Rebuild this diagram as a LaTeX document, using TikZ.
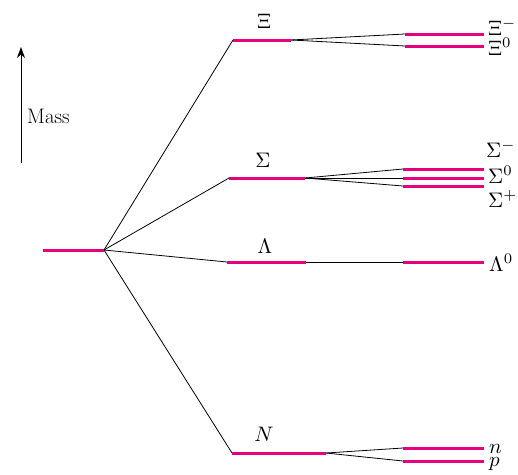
\documentclass[tikz,border=0pt]{standalone}
\usetikzlibrary{arrows.meta}
\definecolor{lvl}{HTML}{E6007E}
\newcommand{\mlab}[1]{{\fontsize{10}{12}\selectfont\scalebox{2.1}{$#1$}}}
\tikzset{
  lvlline/.style={draw=lvl, line width=3pt},
  conn/.style={draw=black, line width=0.8pt},
  lab/.style={inner sep=0pt, anchor=base},
  rlab/.style={inner sep=0pt, anchor=base west}
}
\begin{document}
\begin{tikzpicture}[x=1pt,y=-1pt]
\useasboundingbox (0,0) rectangle (518,474);
% coordinates
\coordinate (c0) at (43,250); \coordinate (c1) at (104,250);
\coordinate (xa) at (233,40); \coordinate (xb) at (291,40);
\coordinate (xm1) at (405,34); \coordinate (xm2) at (484,34);
\coordinate (xz1) at (405,46); \coordinate (xz2) at (484,46);
\coordinate (sa) at (229,178); \coordinate (sb) at (305,178);
\coordinate (sm1) at (403,169); \coordinate (sm2) at (484,169);
\coordinate (sz1) at (403,178); \coordinate (sz2) at (484,178);
\coordinate (sp1) at (403,186); \coordinate (sp2) at (484,186);
\coordinate (la) at (227,262); \coordinate (lb) at (306,262);
\coordinate (lz1) at (403,262); \coordinate (lz2) at (484,262);
\coordinate (na) at (232,453); \coordinate (nb) at (326,453);
\coordinate (nn1) at (403,448); \coordinate (nn2) at (484,448);
\coordinate (pp1) at (403,461); \coordinate (pp2) at (484,461);
\coordinate (mb) at (21,163); \coordinate (mt) at (21,47);
% connectors
\draw[conn] (c1) -- (xa);
\draw[conn] (c1) -- (sa);
\draw[conn] (c1) -- (la);
\draw[conn] (c1) -- (na);
\draw[conn] (xb) -- (xm1);
\draw[conn] (xb) -- (xz1);
\draw[conn] (sb) -- (sm1);
\draw[conn] (sb) -- (sz1);
\draw[conn] (sb) -- (sp1);
\draw[conn] (lb) -- (lz1);
\draw[conn] (nb) -- (nn1);
\draw[conn] (nb) -- (pp1);
% levels
\draw[lvlline] (c0) -- (c1);
\draw[lvlline] (xa) -- (xb);
\draw[lvlline] (xm1) -- (xm2);
\draw[lvlline] (xz1) -- (xz2);
\draw[lvlline] (sa) -- (sb);
\draw[lvlline] (sm1) -- (sm2);
\draw[lvlline] (sz1) -- (sz2);
\draw[lvlline] (sp1) -- (sp2);
\draw[lvlline] (la) -- (lb);
\draw[lvlline] (lz1) -- (lz2);
\draw[lvlline] (na) -- (nb);
\draw[lvlline] (nn1) -- (nn2);
\draw[lvlline] (pp1) -- (pp2);
% mass arrow
\draw[line width=0.9pt, -{Stealth[length=11pt,width=8pt]}] (mb) -- (mt);
\node[rlab, font=\fontsize{21}{25}\selectfont] (mass) at (27,123) {Mass};
% labels
\node[lab] (lXi) at (264,28) {\mlab{\Xi}};
\node[lab] (lSig) at (263,167) {\mlab{\Sigma}};
\node[lab] (lLam) at (265,253) {\mlab{\Lambda}};
\node[lab] (lN) at (264,441) {\mlab{N}};
\node[rlab] (rXm) at (488,35) {\mlab{\Xi^{-}}};
\node[rlab] (rXz) at (488,55) {\mlab{\Xi^{0}}};
\node[rlab] (rSm) at (486,157) {\mlab{\Sigma^{-}}};
\node[rlab] (rSz) at (488,183) {\mlab{\Sigma^{0}}};
\node[rlab] (rSp) at (488,207) {\mlab{\Sigma^{+}}};
\node[rlab] (rLz) at (489,271) {\mlab{\Lambda^{0}}};
\node[rlab] (rn) at (489,453) {\mlab{n}};
\node[rlab] (rp) at (489,466) {\mlab{p}};
\end{tikzpicture}
\end{document}
